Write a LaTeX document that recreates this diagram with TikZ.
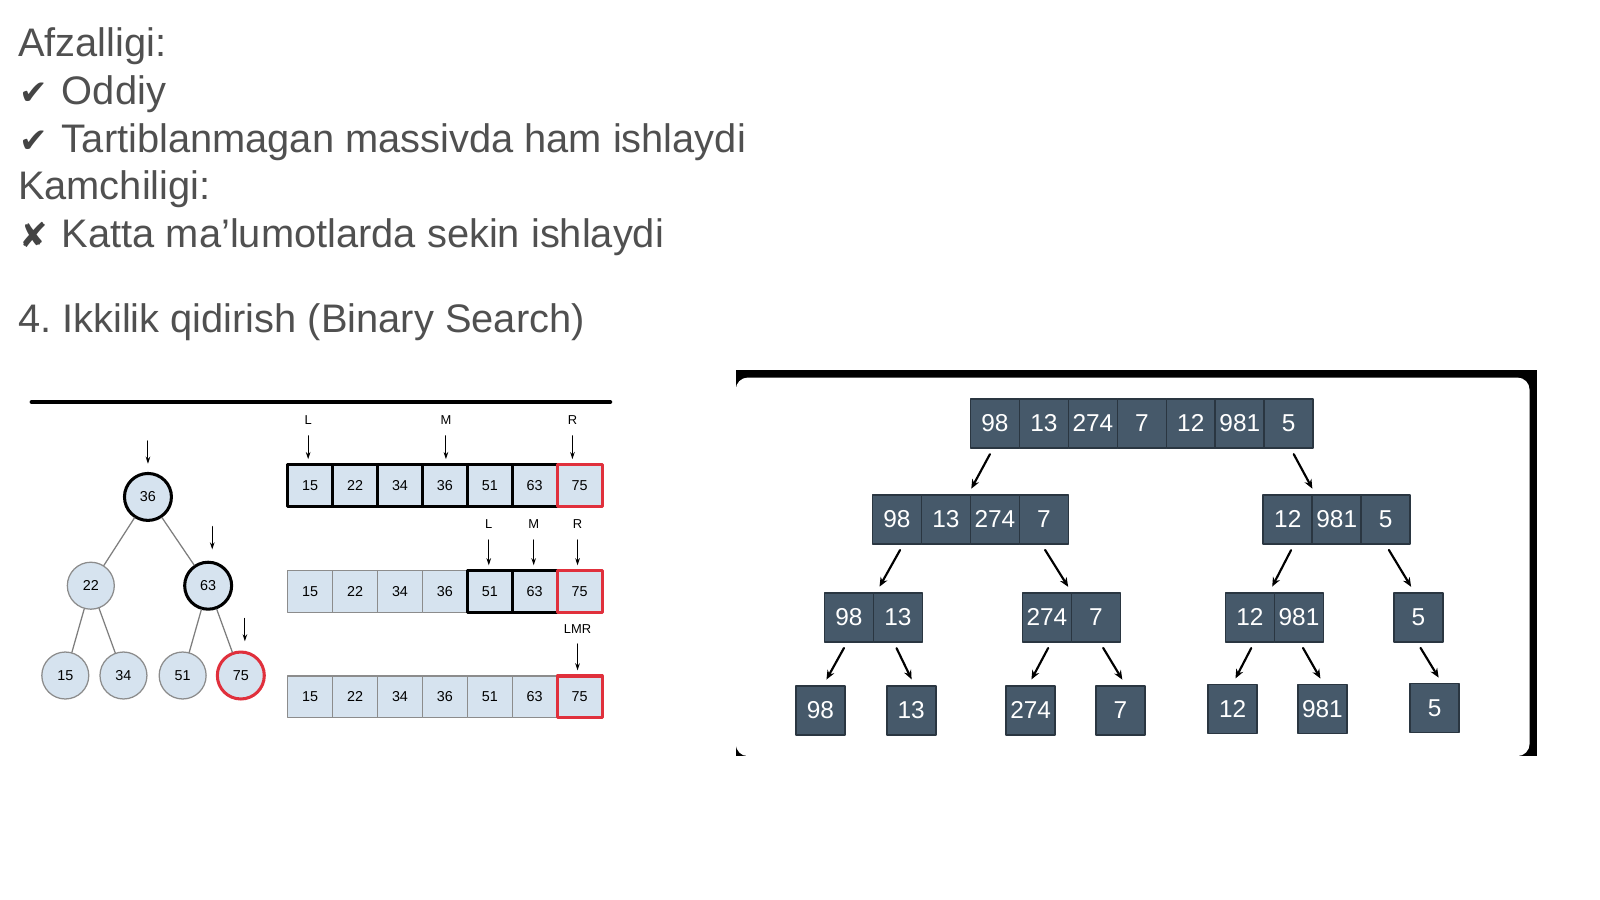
\documentclass[tikz,border=0pt]{standalone}
\usepackage{fontspec}
\setmainfont{Liberation Sans}
\newfontfamily\symfont{DejaVu Sans}
\usetikzlibrary{arrows.meta,calc,positioning}
\frenchspacing

\definecolor{txtgray}{HTML}{505050}
\definecolor{lightcell}{HTML}{D6E3EF}
\definecolor{circgray}{HTML}{8C8C8C}
\definecolor{foundred}{HTML}{E0303C}
\definecolor{darkcell}{HTML}{46596A}
\definecolor{darkline}{HTML}{2A3641}

\tikzset{
	txt/.style={anchor=base west, inner sep=0, text=txtgray, font=\fontsize{11.1}{13}\selectfont},
	tick/.style={anchor=base west, inner sep=0, text=txtgray!85!black, font=\symfont\fontsize{9.5}{11}\selectfont},
	plain/.style={},
	hot/.style={draw=black, line width=0.85pt},
	found/.style={draw=foundred, line width=0.85pt},
	circ/.style={circle, draw=circgray, line width=0.35pt, fill=lightcell, minimum size=0.46cm, inner sep=0, font=\fontsize{4}{5}\selectfont},
	cell/.style={rectangle, draw=circgray, line width=0.3pt, fill=lightcell, minimum width=0.44cm, minimum height=0.41cm, inner sep=0, font=\fontsize{4}{5}\selectfont},
	lbl/.style={inner sep=0, font=\fontsize{3.6}{4}\selectfont},
	edge/.style={draw=circgray!90!black, line width=0.35pt},
	ptr/.style={-{Stealth[length=0.07cm,width=0.045cm]}, line width=0.3pt},
	dcell/.style={rectangle, draw=darkline, line width=0.45pt, fill=darkcell, text=white, minimum size=0.48cm, inner sep=0, font=\fontsize{6.8}{8}\selectfont},
	darr/.style={-{Stealth[length=0.09cm,width=0.075cm]}, line width=0.6pt, shorten <=0.06cm, shorten >=0.06cm}
}

\begin{document}
\begin{tikzpicture}[x=0.01cm, y=-0.01cm, line cap=round, line join=round]
	\useasboundingbox (0,0) rectangle (1568,882);
	
	% text block
	\node[txt] (afz) at (17,55) {Afzalligi:};
	\node[tick] (ok1) at (18,102) {✔};
	\node[txt] (odd) at (60,102) {Oddiy};
	\node[tick] (ok2) at (18,149) {✔};
	\node[txt] (tar) at (60,149) {Tartiblanmagan massivda ham ishlaydi};
	\node[txt] (kam) at (17,196) {Kamchiligi:};
	\node[tick] (no1) at (18,243) {✘};
	\node[txt] (kat) at (60,243) {Katta ma’lumotlarda sekin ishlaydi};
	\node[txt] (ttl) at (17,326) {4. Ikkilik qidirish (Binary Search)};
	
	% left picture: tree and three arrays
	\draw[line width=1.15pt] (31,394) -- (598,394);
	
	\node[circ,hot] (n36) at (145,487) {36};
	\node[circ] (n22) at (89,574) {22};
	\node[circ,hot] (n63) at (204,574) {63};
	\node[circ] (n15) at (64,662) {15};
	\node[circ] (n34) at (121,662) {34};
	\node[circ] (n51) at (179,662) {51};
	\node[circ,found] (n75) at (236,662) {75};
	\draw[edge] (n36) -- (n22);
	\draw[edge] (n36) -- (n63);
	\draw[edge] (n22) -- (n15);
	\draw[edge] (n22) -- (n34);
	\draw[edge] (n63) -- (n51);
	\draw[edge] (n63) -- (n75);
	
	\coordinate (p36) at (145,432);
	\coordinate (p63) at (208,516);
	\coordinate (p75) at (240,606);
	\draw[ptr, shorten >=0.08cm] (p36) -- (p36 |- n36.north);
	\draw[ptr, shorten >=0.11cm] (p63) -- (p63 |- n63.north);
	\draw[ptr, shorten >=0.09cm] (p75) -- (p75 |- n75.north);
	
	\foreach \v/\s [count=\i] in {15/hot,22/hot,34/hot,36/hot,51/hot,63/hot,75/found}
	\node[cell,\s] (a\i) at ({260+44*\i},476) {\v};
	\foreach \v/\s [count=\i] in {15/plain,22/plain,34/plain,36/plain,51/hot,63/hot,75/found}
	\node[cell,\s] (b\i) at ({260+44*\i},580) {\v};
	\foreach \v/\s [count=\i] in {15/plain,22/plain,34/plain,36/plain,51/plain,63/plain,75/found}
	\node[cell,\s] (c\i) at ({260+44*\i},683) {\v};
	
	\node[lbl] (aL) at (302,412) {L};
	\node[lbl] (aM) at (437,412) {M};
	\node[lbl] (aR) at (561,412) {R};
	\node[lbl] (bL) at (479,514) {L};
	\node[lbl] (bM) at (523,514) {M};
	\node[lbl] (bR) at (566,514) {R};
	\node[lbl] (cLMR) at (566,616) {LMR};
	\foreach \p/\q in {aL/a1,aM/a4,aR/a7,bL/b5,bM/b6,bR/b7,cLMR/c7}
	\draw[ptr, shorten <=0.1cm, shorten >=0.04cm] (\p.south) -- (\p.south |- \q.north);
	
	% right picture: frame
	\fill[black] (721,363) rectangle (1506,741);
	\fill[white, rounded corners=0.12cm] (721,370) rectangle (1499,741);
	
	% split tree of dark cells
	\foreach \v [count=\i] in {98,13,274,7,12,981,5}
	\node[dcell] (t\i) at ({927+48*\i},415) {\v};
	\foreach \v [count=\i] in {98,13,274,7}
	\node[dcell] (l\i) at ({831+48*\i},509) {\v};
	\foreach \v [count=\i] in {12,981,5}
	\node[dcell] (r\i) at ({1214+48*\i},509) {\v};
	\node[dcell] (m1) at (832,605) {98};
	\node[dcell] (m2) at (880,605) {13};
	\node[dcell] (k1) at (1026,605) {274};
	\node[dcell] (k2) at (1074,605) {7};
	\node[dcell] (p1) at (1225,605) {12};
	\node[dcell] (p2) at (1273,605) {981};
	\node[dcell] (q1) at (1390,605) {5};
	\node[dcell] (s1) at (804,696) {98};
	\node[dcell] (s2) at (893,696) {13};
	\node[dcell] (s3) at (1010,696) {274};
	\node[dcell] (s4) at (1098,696) {7};
	\node[dcell] (s5) at (1208,695) {12};
	\node[dcell] (s6) at (1296,695) {981};
	\node[dcell] (s7) at (1406,694) {5};
	
	\draw[darr] ([xshift=-0.02cm]t1.south) -- ([xshift=0.22cm]l2.north);
	\draw[darr] ([xshift=0.02cm]t7.south) -- ([xshift=-0.21cm]r2.north);
	\draw[darr] ([xshift=0.06cm]l1.south) -- ([xshift=-0.21cm]m2.north);
	\draw[darr] ([xshift=-0.02cm]l4.south) -- ([xshift=0.24cm]k1.north);
	\draw[darr] ([xshift=0.06cm]r1.south) -- ([xshift=0.19cm]p1.north);
	\draw[darr] (r3.south) -- ([xshift=-0.04cm]q1.north);
	\draw[darr] ([xshift=-0.02cm]m1.south) -- ([xshift=0.03cm]s1.north);
	\draw[darr] ([xshift=-0.04cm]m2.south) -- ([xshift=0.03cm]s2.north);
	\draw[darr] ([xshift=0.04cm]k1.south) -- ([xshift=-0.02cm]s3.north);
	\draw[darr] ([xshift=0.04cm]k2.south) -- ([xshift=0.05cm]s4.north);
	\draw[darr] ([xshift=0.04cm]p1.south) -- (s5.north);
	\draw[darr] ([xshift=0.01cm]p2.south) -- ([xshift=0.01cm]s6.north);
	\draw[darr] ([xshift=-0.01cm]q1.south) -- ([xshift=0.07cm]s7.north);
	
\end{tikzpicture}
\end{document}
